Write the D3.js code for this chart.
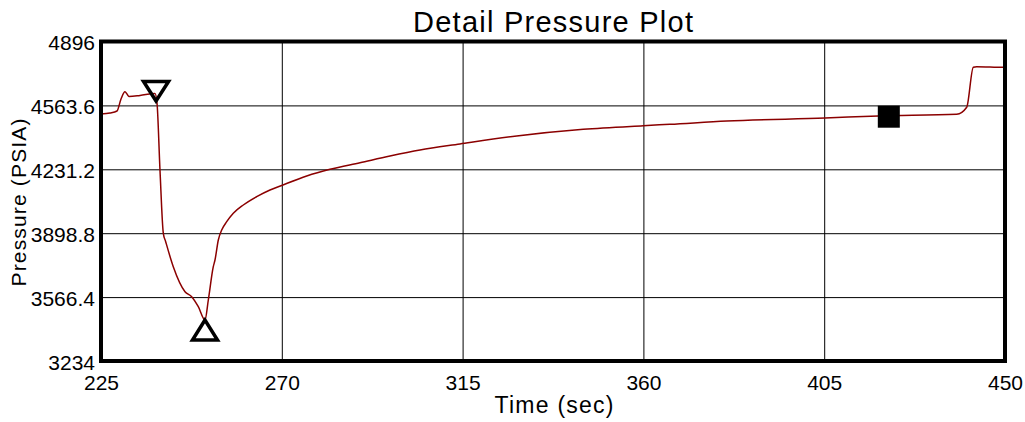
<!DOCTYPE html>
<html>
<head>
<meta charset="utf-8">
<script src="https://cdn.jsdelivr.net/npm/d3@7"></script>
<style>
  html, body { margin: 0; padding: 0; background: #fff; }
  svg { display: block; font-family: "Liberation Sans", Arial, sans-serif; }
</style>
</head>
<body>
<svg id="chart" width="1025" height="422"></svg>
<script>
// ---- data ----
const times = [225, 227.24, 228.98, 229.98, 230.97, 231.47, 231.97, 234.71, 238.44, 238.94,
  239.68, 240.51, 241.1, 242.99, 245.91, 247.57, 249.22, 250.88, 251.71, 252.95,
  253.37, 254.2, 255.04, 256.29, 257.93, 260.42, 263.75, 267.06, 269.8, 276.2,
  282.0, 289.46, 296.93, 304.4, 314.35, 328.46, 345.04, 359.97, 366.62, 380.73,
  405.2, 418.46, 437.98, 440.47, 442.11, 442.96, 449.58, 450];
const pressures = [4518.9, 4524.1, 4534.5, 4596.9, 4634.9, 4622.9, 4609.9, 4615.1, 4625.5, 4576.1,
  4227.5, 3898.3, 3854.6, 3724.5, 3594.5, 3568.5, 3516.4, 3447.3, 3551.3, 3724.5,
  3759.4, 3863.4, 3915.4, 3958.6, 4002.3, 4045.5, 4088.7, 4123.5, 4145.9, 4196.3,
  4231.2, 4265.5, 4300.4, 4331.6, 4362.8, 4404.4, 4439.3, 4458.0, 4465.3, 4482.4,
  4498.0, 4508.5, 4517.3, 4553.7, 4761.8, 4765.1, 4761.8, 4762];

const markerTimes = [238.7, 250.88, 421.08];
const markerPressures = [4586.5, 3447.3, 4504.8];
const markerTypes = ["down", "up", "square"];

const xTicks = [225, 270, 315, 360, 405, 450];
const yTicks = [3234, 3566.4, 3898.8, 4231.2, 4563.6, 4896];
const yTickLabels = ["3234", "3566.4", "3898.8", "4231.2", "4563.6", "4896"];

const titleText = "Detail Pressure Plot";
const xLabel = "Time (sec)";
const yLabel = "Pressure (PSIA)";

// ---- layout ----
const svg = d3.select("#chart");
const L = 101, R = 1005, T = 41.5, B = 361;
const FONT = "'Liberation Sans', Arial, sans-serif";

const x = d3.scaleLinear().domain([225, 450]).range([L, R]);
const y = d3.scaleLinear().domain([3234, 4896]).range([B, T]);

// grid lines
const gx = svg.append("g").attr("transform", `translate(0,${B})`)
  .call(d3.axisBottom(x).tickValues(xTicks.slice(1, -1)).tickSize(-(B - T)).tickFormat(""));
gx.select(".domain").remove();
gx.selectAll(".tick line").attr("stroke", "#000").attr("stroke-width", 1);

const gy = svg.append("g").attr("transform", `translate(${L},0)`)
  .call(d3.axisLeft(y).tickValues(yTicks.slice(1, -1)).tickSize(-(R - L)).tickFormat(""));
gy.select(".domain").remove();
gy.selectAll(".tick line").attr("stroke", "#000").attr("stroke-width", 1);

// tick labels via axes
const ax = svg.append("g").attr("transform", `translate(0,${B})`)
  .call(d3.axisBottom(x).tickValues(xTicks).tickSize(0).tickPadding(0).tickFormat(d3.format("d")));
ax.select(".domain").remove();
ax.selectAll(".tick text")
  .attr("y", 29).attr("dy", null)
  .attr("font-size", 21).attr("fill", "#000")
  .attr("font-family", FONT);

const ay = svg.append("g").attr("transform", `translate(${L},0)`)
  .call(d3.axisLeft(y).tickValues(yTicks).tickSize(0).tickPadding(0)
    .tickFormat((d, i) => yTickLabels[i]));
ay.select(".domain").remove();
ay.selectAll(".tick text")
  .attr("x", -6).attr("dy", null).attr("y", 8)
  .attr("font-size", 21).attr("fill", "#000")
  .attr("font-family", FONT);

// curve
const line = d3.line()
  .x(i => x(times[i]))
  .y(i => y(pressures[i]))
  .curve(d3.curveMonotoneX);

svg.append("defs").append("clipPath").attr("id", "clip")
  .append("rect").attr("x", L).attr("y", T).attr("width", R - L).attr("height", B - T);

svg.append("path")
  .attr("d", line(d3.range(times.length)))
  .attr("fill", "none")
  .attr("stroke", "#8b0000")
  .attr("stroke-width", 1.5)
  .attr("clip-path", "url(#clip)");

// frame
svg.append("rect")
  .attr("x", L).attr("y", T).attr("width", R - L).attr("height", B - T)
  .attr("fill", "none").attr("stroke", "#000").attr("stroke-width", 4);

// markers
markerTypes.forEach((t, i) => {
  const mx = x(markerTimes[i]), my = y(markerPressures[i]);
  if (t === "down") {
    svg.append("path")
      .attr("d", `M${mx},${my} L${mx - 12.5},${my - 19.5} L${mx + 12.5},${my - 19.5} Z`)
      .attr("fill", "none").attr("stroke", "#000").attr("stroke-width", 3.5);
  } else if (t === "up") {
    svg.append("path")
      .attr("d", `M${mx},${my} L${mx - 12.5},${my + 20} L${mx + 12.5},${my + 20} Z`)
      .attr("fill", "none").attr("stroke", "#000").attr("stroke-width", 3.5);
  } else {
    svg.append("rect")
      .attr("x", mx - 11).attr("y", my - 11).attr("width", 22).attr("height", 22)
      .attr("fill", "#000");
  }
});

// titles
svg.append("text")
  .attr("x", 553).attr("y", 31.5)
  .attr("text-anchor", "middle")
  .attr("font-size", 29)
  .attr("textLength", 280).attr("lengthAdjust", "spacing")
  .text(titleText);

svg.append("text")
  .attr("x", 554).attr("y", 413)
  .attr("text-anchor", "middle")
  .attr("font-size", 23)
  .attr("textLength", 119).attr("lengthAdjust", "spacing")
  .text(xLabel);

svg.append("text")
  .attr("transform", "translate(25.5,202.5) rotate(-90)")
  .attr("text-anchor", "middle")
  .attr("font-size", 21)
  .attr("textLength", 168).attr("lengthAdjust", "spacing")
  .text(yLabel);
</script>
</body>
</html>
